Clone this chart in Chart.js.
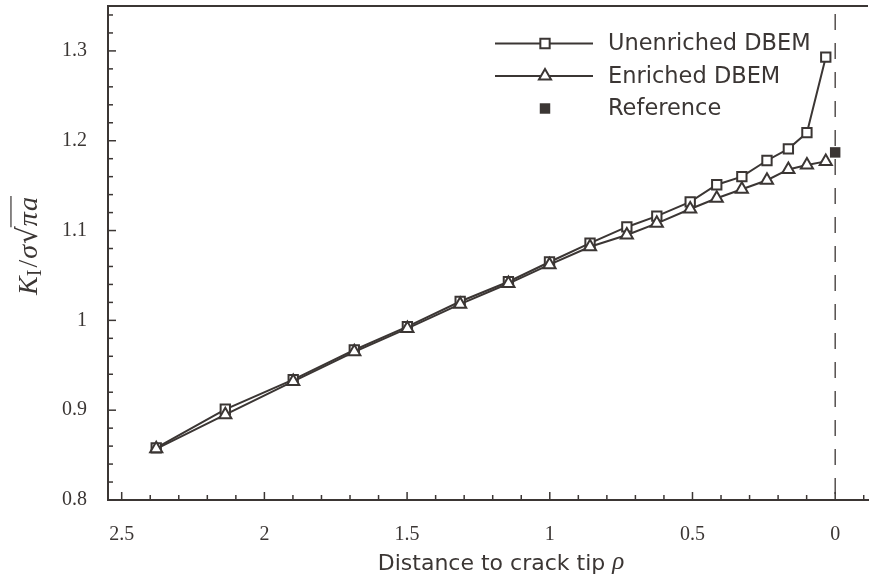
<!DOCTYPE html>
<html>
<head>
<meta charset="utf-8">
<script src="https://cdn.jsdelivr.net/npm/chart.js@4/dist/chart.umd.min.js"></script>
<style>
  html, body { margin: 0; padding: 0; background: #ffffff; }
  #wrap { width: 873px; height: 581px; }
</style>
</head>
<body>
<div id="wrap"><canvas id="c" width="873" height="581"></canvas></div>
<script>
// ---- data ----
const distances = [2.379, 2.137, 1.899, 1.685, 1.499, 1.314, 1.145, 1.001, 0.859, 0.730, 0.625, 0.508, 0.415, 0.327, 0.239, 0.164, 0.099, 0.033];
const unenrichedK = [0.858, 0.901, 0.934, 0.967, 0.993, 1.021, 1.043, 1.065, 1.086, 1.104, 1.116, 1.132, 1.151, 1.160, 1.178, 1.191, 1.209, 1.293];
const enrichedK   = [0.857, 0.895, 0.932, 0.965, 0.991, 1.018, 1.041, 1.062, 1.082, 1.095, 1.108, 1.124, 1.136, 1.146, 1.156, 1.168, 1.173, 1.177];
const referenceX = [0];
const referenceK = [1.187];
const seriesNames = ['Unenriched DBEM', 'Enriched DBEM', 'Reference'];
const xTickValues = [2.5, 2, 1.5, 1, 0.5, 0];
const yTickValues = [0.8, 0.9, 1, 1.1, 1.2, 1.3];
const xTitleText = 'Distance to crack tip';
const xTitleSymbol = 'ρ';

const INK = '#3b3634';
const SERIF = '"Liberation Serif", "DejaVu Serif", serif';
const SANS = '"DejaVu Sans", sans-serif';
const toPts = (xs, ys) => xs.map((x, i) => ({ x: x, y: ys[i] }));
const noPad = s => { s.paddingLeft = 0; s.paddingRight = 0; s.paddingTop = 0; s.paddingBottom = 0; };

// inward tick marks, top frame line, dashed crack-tip line
const framePlugin = {
  id: 'frame',
  beforeDatasetsDraw(chart) {
    const { ctx, chartArea: ca, scales: { x, y } } = chart;
    ctx.save();
    const x0 = x.getPixelForValue(0);
    ctx.strokeStyle = INK;
    ctx.lineWidth = 1.3;
    ctx.setLineDash([16, 13]);
    ctx.beginPath();
    ctx.moveTo(x0, ca.top + 8);
    ctx.lineTo(x0, ca.bottom);
    ctx.stroke();
    ctx.setLineDash([]);
    ctx.lineWidth = 2;
    ctx.beginPath();
    ctx.moveTo(ca.left - 1, ca.top);
    ctx.lineTo(ca.right, ca.top);
    ctx.stroke();
    ctx.lineWidth = 1.5;
    for (let k = -1; k <= 25; k++) {
      const px = x.getPixelForValue(k / 10);
      if (px < ca.left || px > ca.right) continue;
      const len = (k % 5 === 0) ? 8 : 5;
      ctx.beginPath();
      ctx.moveTo(px, ca.bottom);
      ctx.lineTo(px, ca.bottom - len);
      ctx.stroke();
    }
    for (let k = 40; k <= 67; k++) {
      const py = y.getPixelForValue(k / 50);
      if (py < ca.top || py > ca.bottom) continue;
      const len = (k % 5 === 0) ? 8 : 5;
      ctx.beginPath();
      ctx.moveTo(ca.left, py);
      ctx.lineTo(ca.left + len, py);
      ctx.stroke();
    }
    ctx.restore();
  }
};

// axis titles (y title with math formatting)
const titlesPlugin = {
  id: 'axisTitles',
  afterDraw(chart) {
    const { ctx, chartArea: ca } = chart;
    ctx.save();
    ctx.fillStyle = INK;
    ctx.textBaseline = 'middle';
    ctx.textAlign = 'left';
    ctx.font = `22px ${SANS}`;
    const w1 = ctx.measureText(xTitleText + ' ').width;
    ctx.font = `italic 25px ${SERIF}`;
    const w2 = ctx.measureText(xTitleSymbol).width;
    const xc = (ca.left + ca.right) / 2 + 13;
    let sx = xc - (w1 + w2) / 2;
    ctx.font = `22px ${SANS}`;
    ctx.fillText(xTitleText + ' ', sx, 564);
    ctx.font = `italic 25px ${SERIF}`;
    ctx.fillText(xTitleSymbol, sx + w1, 562);
    ctx.restore();

    const fs = 28;
    const parts = [
      { t: 'K', f: `italic ${fs}px ${SERIF}`, dy: 0, gap: 0 },
      { t: 'I', f: `${Math.round(fs * 0.7)}px ${SERIF}`, dy: 4, gap: 0 },
      { t: '/', f: `${fs}px ${SERIF}`, dy: 0, gap: 2 },
      { t: 'σ', f: `italic ${fs}px ${SERIF}`, dy: 0, gap: 1 },
      { t: '√', f: `${fs}px "DejaVu Serif", serif`, dy: 0, gap: 1 },
      { t: 'π', f: `italic ${fs}px ${SERIF}`, dy: 0, gap: 0, over: true },
      { t: 'a', f: `italic ${fs}px ${SERIF}`, dy: 0, gap: 1, over: true }
    ];
    ctx.save();
    let total = 0;
    parts.forEach(p => { ctx.font = p.f; p.w = ctx.measureText(p.t).width; total += p.w + p.gap; });
    ctx.translate(37, (ca.top + ca.bottom) / 2 - 7);
    ctx.rotate(-Math.PI / 2);
    ctx.fillStyle = INK;
    ctx.strokeStyle = INK;
    ctx.textBaseline = 'alphabetic';
    ctx.textAlign = 'left';
    let cx = -total / 2;
    let overStart = null, overEnd = null;
    parts.forEach(p => {
      cx += p.gap;
      ctx.font = p.f;
      ctx.fillText(p.t, cx, p.dy);
      if (p.over) { if (overStart === null) overStart = cx; overEnd = cx + p.w; }
      cx += p.w;
    });
    ctx.lineWidth = 1.2;
    ctx.beginPath();
    ctx.moveTo(overStart - 1, -fs * 0.93);
    ctx.lineTo(overEnd + 1, -fs * 0.93);
    ctx.stroke();
    ctx.restore();
  }
};

// legend: line + marker + text
const legendPlugin = {
  id: 'customLegend',
  afterDraw(chart) {
    const { ctx } = chart;
    const rows = [
      { name: seriesNames[0], line: true, ds: chart.data.datasets[1] },
      { name: seriesNames[1], line: true, ds: chart.data.datasets[0] },
      { name: seriesNames[2], line: false, ds: chart.data.datasets[2] }
    ];
    const x1 = 495, x2 = 593, xm = 545, xt = 608, y0 = 43.5, dy = 32.5;
    ctx.save();
    rows.forEach((r, i) => {
      const yy = y0 + i * dy;
      if (r.line) {
        ctx.strokeStyle = INK;
        ctx.lineWidth = 2;
        ctx.beginPath();
        ctx.moveTo(x1, yy);
        ctx.lineTo(x2, yy);
        ctx.stroke();
      }
      ctx.fillStyle = r.ds.pointBackgroundColor;
      ctx.strokeStyle = INK;
      ctx.lineWidth = r.ds.pointBorderWidth;
      Chart.helpers.drawPoint(ctx, {
        pointStyle: r.ds.pointStyle,
        radius: r.ds.pointRadius,
        borderWidth: r.ds.pointBorderWidth,
        rotation: 0
      }, xm, yy);
      ctx.fillStyle = INK;
      ctx.font = `22.5px ${SANS}`;
      ctx.textBaseline = 'middle';
      ctx.textAlign = 'left';
      ctx.fillText(r.name, xt, yy + 1);
    });
    ctx.restore();
  }
};

new Chart(document.getElementById('c'), {
  type: 'scatter',
  data: {
    datasets: [
      {
        label: seriesNames[1],
        data: toPts(distances, enrichedK),
        showLine: true,
        borderColor: INK,
        borderWidth: 2,
        pointStyle: 'triangle',
        pointRadius: 7,
        pointBorderWidth: 2,
        pointBackgroundColor: '#ffffff',
        pointBorderColor: INK,
        order: 1
      },
      {
        label: seriesNames[0],
        data: toPts(distances, unenrichedK),
        showLine: true,
        borderColor: INK,
        borderWidth: 2,
        pointStyle: 'rect',
        pointRadius: 6.6,
        pointBorderWidth: 2,
        pointBackgroundColor: '#ffffff',
        pointBorderColor: INK,
        order: 2
      },
      {
        label: seriesNames[2],
        data: toPts(referenceX, referenceK),
        showLine: false,
        pointStyle: 'rect',
        pointRadius: 7.4,
        pointBorderWidth: 0,
        pointBackgroundColor: INK,
        pointBorderColor: INK,
        order: 0
      }
    ]
  },
  options: {
    responsive: false,
    animation: false,
    devicePixelRatio: 1,
    events: [],
    layout: { autoPadding: false, padding: { left: 0, right: 5, top: 6, bottom: 0 } },
    plugins: {
      legend: { display: false },
      tooltip: { enabled: false },
      title: { display: false }
    },
    scales: {
      x: {
        type: 'linear',
        reverse: true,
        min: -0.115,
        max: 2.548,
        afterBuildTicks: s => { s.ticks = xTickValues.map(v => ({ value: v })); },
        afterFit: s => { s.height = 81; noPad(s); },
        grid: { display: false, drawTicks: false },
        border: { display: true, color: INK, width: 2 },
        ticks: {
          color: INK,
          padding: 23,
          maxRotation: 0,
          autoSkip: false,
          font: { family: SERIF, size: 20 },
          callback: v => String(+Number(v).toFixed(2))
        },
        title: { display: false }
      },
      y: {
        type: 'linear',
        min: 0.8,
        max: 1.35,
        afterBuildTicks: s => { s.ticks = yTickValues.map(v => ({ value: v })); },
        afterFit: s => { s.width = 108; noPad(s); },
        grid: { display: false, drawTicks: false },
        border: { display: true, color: INK, width: 2 },
        ticks: {
          color: INK,
          padding: 21,
          autoSkip: false,
          font: { family: SERIF, size: 20 },
          callback: v => String(+Number(v).toFixed(2))
        }
      }
    }
  },
  plugins: [framePlugin, titlesPlugin, legendPlugin]
});
</script>
</body>
</html>
